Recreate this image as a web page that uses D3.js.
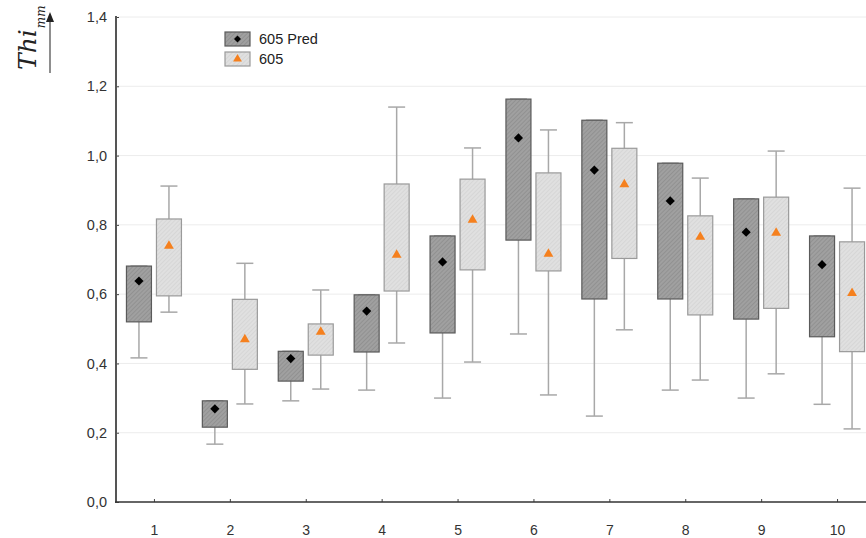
<!DOCTYPE html>
<html><head><meta charset="utf-8">
<script src="https://cdn.jsdelivr.net/npm/d3@7"></script>
<style>body{margin:0;background:#fff}svg{display:block}</style>
</head><body><svg id="c" width="866" height="538"></svg>
<script>
const categories = [1,2,3,4,5,6,7,8,9,10];
const yTicks = [0,0.2,0.4,0.6,0.8,1.0,1.2,1.4];
// 605 Pred (dark): box low, box high, whisker low, whisker high, mean
const predQ1   = [0.520,0.216,0.349,0.433,0.488,0.756,0.586,0.586,0.528,0.477];
const predQ3   = [0.681,0.292,0.435,0.598,0.768,1.163,1.102,0.978,0.875,0.768];
const predMin  = [0.416,0.167,0.292,0.323,0.300,0.485,0.248,0.323,0.300,0.282];
const predMax  = [0.681,0.292,0.435,0.598,0.768,1.163,1.102,0.978,0.875,0.768];
const predMean = [0.638,0.269,0.414,0.551,0.693,1.051,0.958,0.869,0.779,0.685];
// 605 (light)
const obsQ1   = [0.595,0.383,0.424,0.609,0.670,0.667,0.703,0.540,0.559,0.434];
const obsQ3   = [0.817,0.585,0.514,0.918,0.932,0.950,1.021,0.826,0.880,0.751];
const obsMin  = [0.548,0.283,0.326,0.459,0.404,0.309,0.497,0.352,0.370,0.211];
const obsMax  = [0.912,0.689,0.612,1.140,1.022,1.074,1.095,0.935,1.013,0.906];
const obsMean = [0.739,0.469,0.491,0.713,0.814,0.716,0.917,0.765,0.777,0.603];
const seriesNames = ["605 Pred","605"];

const svg = d3.select("#c");
const x = d3.scaleLinear().domain([0.5,10.5]).range([116,875]);
const y = d3.scaleLinear().domain([0,1.4]).range([502,17]);

const defs = svg.append("defs");
function hatch(id, bg, line){
  const p = defs.append("pattern").attr("id",id).attr("patternUnits","userSpaceOnUse")
    .attr("width",3).attr("height",3).attr("patternTransform","rotate(45)");
  p.append("rect").attr("width",3).attr("height",3).attr("fill",bg);
  p.append("line").attr("x1",0).attr("y1",0).attr("x2",0).attr("y2",3).attr("stroke",line).attr("stroke-width",1);
}
hatch("hDark","#a0a0a0","#828282");
hatch("hLight","#e0e0e0","#cdcdcd");

// gridlines
svg.append("g").selectAll("line").data(yTicks.filter(d=>d>0)).join("line")
  .attr("x1",118).attr("x2",866).attr("y1",d=>y(d)).attr("y2",d=>y(d))
  .attr("stroke","#ececec").attr("stroke-width",1);

// axes
const yAxis = svg.append("g").attr("transform","translate(116,0)")
  .call(d3.axisRight(y).tickValues(yTicks).tickSize(3).tickFormat(d=>d3.format(".1f")(d).replace(".",",")));
yAxis.select(".domain").remove();
yAxis.selectAll(".tick line").attr("stroke","#444");
yAxis.selectAll(".tick text").attr("x",-9).attr("text-anchor","end")
  .attr("font-family","Liberation Sans, Arial, sans-serif").attr("font-size",14.5).attr("fill","#333");
svg.append("line").attr("x1",116).attr("x2",116).attr("y1",16).attr("y2",503).attr("stroke","#555").attr("stroke-width",2);

const xAxis = svg.append("g").attr("transform","translate(0,502)")
  .call(d3.axisTop(x).tickValues(categories).tickSize(3).tickFormat(d3.format("d")));
xAxis.select(".domain").remove();
xAxis.selectAll(".tick line").attr("stroke","#444");
xAxis.selectAll(".tick text").attr("y",32.5).attr("dy","0")
  .attr("font-family","Liberation Sans, Arial, sans-serif").attr("font-size",14).attr("fill","#333");
svg.append("line").attr("x1",115).attr("x2",866).attr("y1",502).attr("y2",502).attr("stroke","#333").attr("stroke-width",1.5);

const bw = 25, cap = 17;
const diamond = "M0,-4.6L4.6,0L0,4.6L-4.6,0Z";
function drawSeries(q1,q3,mn,mx,mean,off,fill,stroke,dark){
  const g = svg.append("g");
  categories.forEach((c,i)=>{
    const cx = x(c)+off;
    g.append("line").attr("x1",cx).attr("x2",cx).attr("y1",y(mn[i])).attr("y2",y(mx[i])).attr("stroke","#a8a8a8").attr("stroke-width",1.5);
    g.append("line").attr("x1",cx-cap/2).attr("x2",cx+cap/2).attr("y1",y(mn[i])).attr("y2",y(mn[i])).attr("stroke","#a8a8a8").attr("stroke-width",1.5);
    g.append("line").attr("x1",cx-cap/2).attr("x2",cx+cap/2).attr("y1",y(mx[i])).attr("y2",y(mx[i])).attr("stroke","#a8a8a8").attr("stroke-width",1.5);
    g.append("rect").attr("x",cx-bw/2).attr("y",y(q3[i])).attr("width",bw).attr("height",y(q1[i])-y(q3[i]))
      .attr("fill",fill).attr("stroke",stroke).attr("stroke-width",1.2);
    if(dark){
      g.append("path").attr("d",diamond).attr("transform",`translate(${cx},${y(mean[i])})`).attr("fill","#000");
    } else {
      g.append("path").attr("d",d3.symbol(d3.symbolTriangle,42)()).attr("transform",`translate(${cx},${y(mean[i])})`).attr("fill","#f5801e");
    }
  });
}
drawSeries(predQ1,predQ3,predMin,predMax,predMean,-15,"url(#hDark)","#5a5a5a",true);
drawSeries(obsQ1,obsQ3,obsMin,obsMax,obsMean,15,"url(#hLight)","#9a9a9a",false);

// legend
const lg = svg.append("g");
[[seriesNames[0],"url(#hDark)","#5a5a5a",true,39],[seriesNames[1],"url(#hLight)","#9a9a9a",false,59]].forEach(([name,f,s,dark,cy])=>{
  lg.append("rect").attr("x",225).attr("y",cy-7).attr("width",25).attr("height",14).attr("fill",f).attr("stroke",s).attr("stroke-width",1.2);
  lg.append("path").attr("d",dark?"M0,-3.5L3.5,0L0,3.5L-3.5,0Z":d3.symbol(d3.symbolTriangle,34)())
    .attr("transform",`translate(237.5,${cy})`).attr("fill",dark?"#000":"#f5801e");
  lg.append("text").attr("x",259).attr("y",cy).attr("dy","0.35em").text(name)
    .attr("font-family","Liberation Sans, Arial, sans-serif").attr("font-size",14.5).attr("fill","#222");
});

// y label
const yl = svg.append("g");
const t = yl.append("text").attr("transform","translate(36,70) rotate(-90)")
  .attr("font-family","DejaVu Serif, Liberation Serif, serif").attr("font-style","italic").attr("fill","#222");
t.append("tspan").attr("font-size",25).text("Thi");
t.append("tspan").attr("font-size",12).attr("dy",9).attr("dx",1).text("mm");
yl.append("line").attr("x1",50).attr("x2",50).attr("y1",73).attr("y2",20).attr("stroke","#444").attr("stroke-width",1.2);
yl.append("path").attr("d","M46,22 L50,12 L54,22 Z").attr("fill","#222");
</script></body></html>
